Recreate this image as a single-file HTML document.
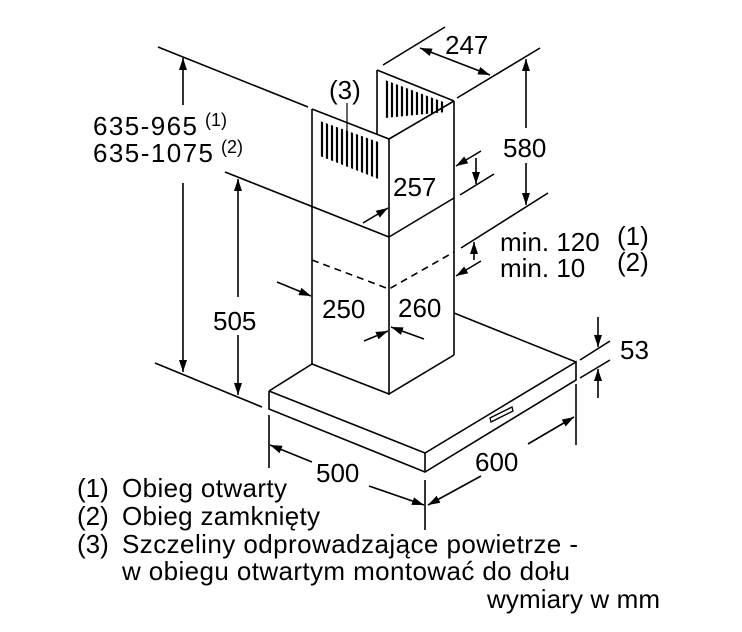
<!DOCTYPE html>
<html><head><meta charset="utf-8"><style>
html,body{margin:0;padding:0;background:#fff;}
svg{display:block;}
text{font-family:"Liberation Sans",Arial,sans-serif;fill:#000;}
</style></head><body>
<svg width="742" height="632" viewBox="0 0 742 632" xmlns="http://www.w3.org/2000/svg">
<defs>
<marker id="a" viewBox="0 0 12 8" refX="12" refY="4" markerWidth="12" markerHeight="8" markerUnits="userSpaceOnUse" orient="auto">
<path d="M0,0 L12,4 L0,8 Z" fill="#000"/></marker>
<marker id="s" viewBox="0 0 12 8" refX="0" refY="4" markerWidth="12" markerHeight="8" markerUnits="userSpaceOnUse" orient="auto">
<path d="M12,0 L0,4 L12,8 Z" fill="#000"/></marker>
<clipPath id="g1"><polygon points="320,121 381,143 381,180 320,156"/></clipPath>
<clipPath id="g2"><polygon points="385,80 446,103 446,112 385,118"/></clipPath>
</defs>
<g stroke="#000" stroke-width="1.6" fill="none">
<line x1="377" y1="70" x2="377" y2="135"/>
<line x1="377" y1="70" x2="454" y2="101"/>
<line x1="454" y1="101" x2="454" y2="355"/>
<line x1="312" y1="109" x2="389" y2="139"/>
<line x1="389" y1="139" x2="454" y2="101"/>
<line x1="312" y1="109" x2="312" y2="365"/>
<line x1="389" y1="139" x2="389" y2="395"/>
<line x1="225" y1="172" x2="389" y2="237"/>
<line x1="389" y1="237" x2="454" y2="198"/>
<line x1="158" y1="47" x2="308" y2="107"/>
<polyline points="312,260 389,289 454,252" stroke-dasharray="7,5"/>
<line x1="312" y1="364" x2="389" y2="394"/>
<line x1="389" y1="394" x2="454" y2="355"/>
<line x1="454" y1="313" x2="576" y2="362"/>
<line x1="312" y1="364" x2="269" y2="391"/>
<polyline points="269,391 425,453 576,362 576,380 425,472 269,409 269,391"/>
<line x1="425" y1="453" x2="425" y2="472"/>
<polygon points="490,418 512,407 513,411 491,422" stroke-width="1.3"/>
<g clip-path="url(#g1)" stroke-width="2.2">
<line x1="322" y1="110" x2="322" y2="190"/><line x1="327" y1="110" x2="327" y2="190"/><line x1="332" y1="110" x2="332" y2="190"/><line x1="337" y1="110" x2="337" y2="190"/><line x1="342" y1="110" x2="342" y2="190"/><line x1="347" y1="110" x2="347" y2="190"/><line x1="352" y1="110" x2="352" y2="190"/><line x1="357" y1="110" x2="357" y2="190"/><line x1="362" y1="110" x2="362" y2="190"/><line x1="367" y1="110" x2="367" y2="190"/><line x1="372" y1="110" x2="372" y2="190"/><line x1="377" y1="110" x2="377" y2="190"/>
</g>
<g clip-path="url(#g2)" stroke-width="2.2">
<line x1="387" y1="70" x2="387" y2="130"/><line x1="392" y1="70" x2="392" y2="130"/><line x1="397" y1="70" x2="397" y2="130"/><line x1="402" y1="70" x2="402" y2="130"/><line x1="407" y1="70" x2="407" y2="130"/><line x1="412" y1="70" x2="412" y2="130"/><line x1="417" y1="70" x2="417" y2="130"/><line x1="422" y1="70" x2="422" y2="130"/><line x1="427" y1="70" x2="427" y2="130"/><line x1="432" y1="70" x2="432" y2="130"/><line x1="437" y1="70" x2="437" y2="130"/><line x1="442" y1="70" x2="442" y2="130"/>
</g>
<line x1="347" y1="103" x2="347" y2="142" stroke-width="1.2"/>
<line x1="383" y1="65" x2="445" y2="27"/>
<line x1="457" y1="98" x2="540" y2="48"/>
<line x1="420" y1="48" x2="490" y2="75" marker-start="url(#s)" marker-end="url(#a)"/>
<line x1="526" y1="128" x2="526" y2="59" marker-end="url(#a)"/>
<line x1="526" y1="163" x2="526" y2="205" marker-end="url(#a)"/>
<line x1="461" y1="248" x2="548" y2="193"/>
<line x1="481" y1="151" x2="456" y2="166" marker-end="url(#a)"/>
<line x1="476" y1="158" x2="476" y2="184" marker-end="url(#a)"/>
<line x1="460" y1="195" x2="494" y2="174"/>
<line x1="363" y1="223" x2="388" y2="208" marker-end="url(#a)"/>
<line x1="474" y1="260" x2="474" y2="242" marker-end="url(#a)"/>
<line x1="481" y1="261" x2="456" y2="276" marker-end="url(#a)"/>
<line x1="277" y1="282" x2="311" y2="296" marker-end="url(#a)"/>
<line x1="364" y1="341" x2="388" y2="331" marker-end="url(#a)"/>
<line x1="424" y1="339" x2="391" y2="327" marker-end="url(#a)"/>
<line x1="183" y1="105" x2="183" y2="58" marker-end="url(#a)"/>
<line x1="183" y1="183" x2="183" y2="372" marker-end="url(#a)"/>
<line x1="155" y1="363" x2="262" y2="407"/>
<line x1="238" y1="297" x2="238" y2="179" marker-end="url(#a)"/>
<line x1="238" y1="335" x2="238" y2="395" marker-end="url(#a)"/>
<line x1="580" y1="360" x2="610" y2="341"/>
<line x1="580" y1="378" x2="610" y2="360"/>
<line x1="598" y1="317" x2="598" y2="347" marker-end="url(#a)"/>
<line x1="598" y1="398" x2="598" y2="369" marker-end="url(#a)"/>
<line x1="269" y1="415" x2="269" y2="468"/>
<line x1="425" y1="480" x2="425" y2="530"/>
<line x1="576" y1="384" x2="576" y2="445"/>
<line x1="312" y1="462" x2="270" y2="445" marker-end="url(#a)"/>
<line x1="369" y1="486" x2="424" y2="505" marker-end="url(#a)"/>
<line x1="481" y1="476" x2="428" y2="505" marker-end="url(#a)"/>
<line x1="528" y1="444" x2="574" y2="417" marker-end="url(#a)"/>
</g>
<g font-size="26">
<text x="445" y="54">247</text>
<text x="329" y="99">(3)</text>
<text x="503" y="157">580</text>
<text x="393" y="196">257</text>
<text x="500" y="251">min. 120</text>
<text x="617" y="245">(1)</text>
<text x="500" y="277">min. 10</text>
<text x="617" y="271">(2)</text>
<text x="213" y="330">505</text>
<text x="322" y="318">250</text>
<text x="398" y="317">260</text>
<text x="620" y="359">53</text>
<text x="316" y="482">500</text>
<text x="475" y="471">600</text>
<text x="93" y="135" textLength="104">635-965</text>
<text x="93" y="162" textLength="120">635-1075</text>
</g>
<g font-size="18">
<text x="205" y="126">(1)</text>
<text x="221" y="153">(2)</text>
</g>
<g font-size="26">
<text x="77" y="497">(1)</text><text x="122" y="497" textLength="165">Obieg otwarty</text>
<text x="77" y="525">(2)</text><text x="122" y="525" textLength="198">Obieg zamknięty</text>
<text x="77" y="553">(3)</text><text x="122" y="553" textLength="456">Szczeliny odprowadzające powietrze -</text>
<text x="122" y="580" textLength="448">w obiegu otwartym montować do dołu</text>
<text x="487" y="608" textLength="173">wymiary w mm</text>
</g>
</svg>
</body></html>
